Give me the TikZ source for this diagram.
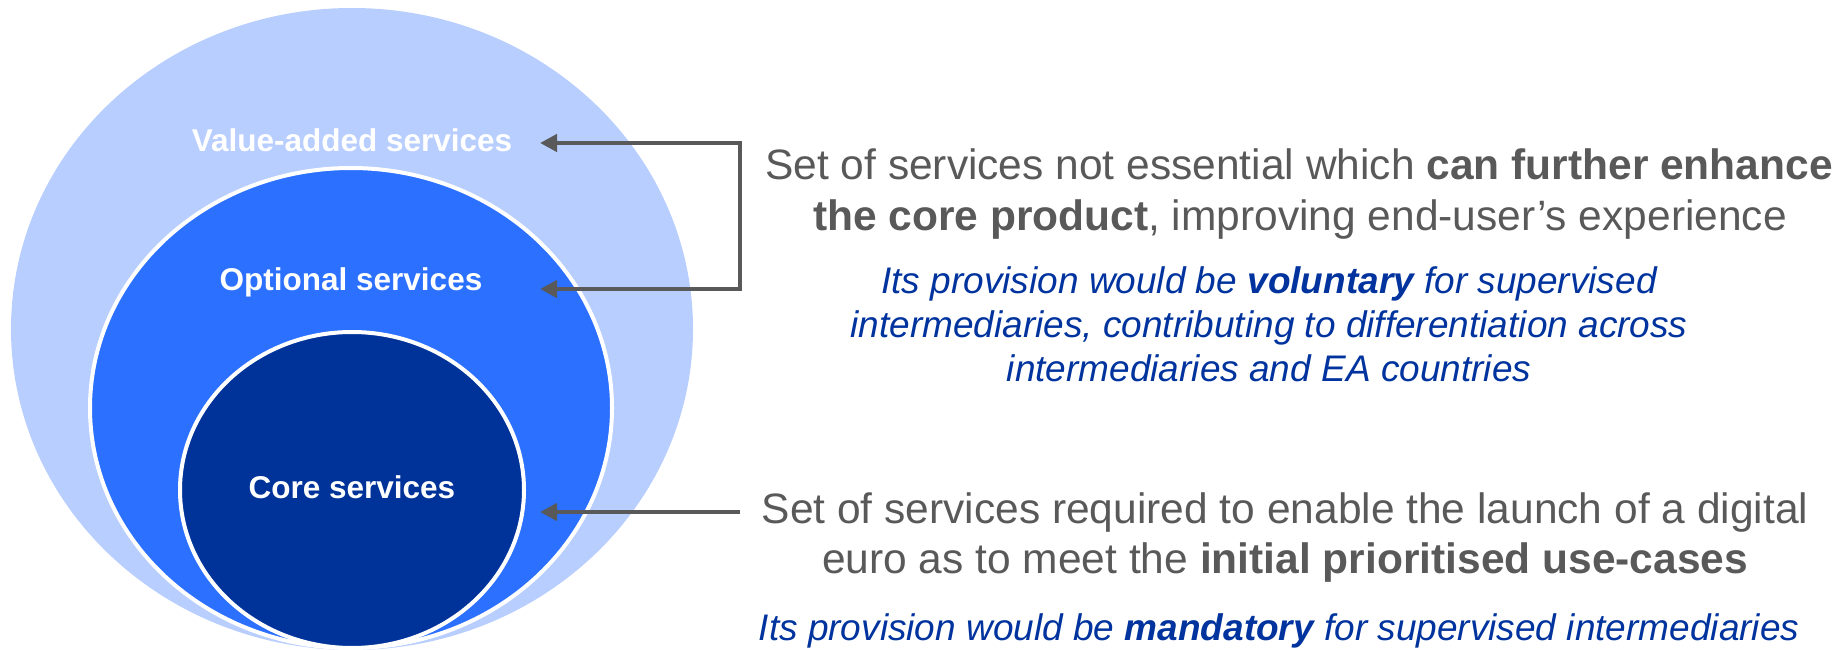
\documentclass[tikz,border=0pt]{standalone}
\usepackage{fontspec}
\setmainfont{Liberation Sans}
\usetikzlibrary{arrows.meta}
\definecolor{outerblue}{HTML}{B8CEFF}
\definecolor{midblue}{HTML}{2B70FF}
\definecolor{navyblue}{HTML}{003399}
\definecolor{txtgray}{HTML}{595959}
\definecolor{itblue}{HTML}{00339E}
\begin{document}
\begin{tikzpicture}[x=1pt,y=-1pt,
  circlabel/.style={text=white,font=\fontsize{31.5}{36}\selectfont\bfseries,anchor=base,inner sep=0pt},
  desc/.style={text=txtgray,font=\fontsize{42.5}{50}\selectfont,anchor=base,inner sep=0pt},
  note/.style={text=itblue,font=\fontsize{37}{44}\selectfont\itshape,anchor=base,inner sep=0pt},
  pointer/.style={draw=txtgray,line width=4.5pt,line join=miter},
  tip/.tip={Triangle[length=17pt,width=17pt]}]
\useasboundingbox (0,0) rectangle (1842,650);
% nested ellipses
\fill[outerblue] (352,329) ellipse [x radius=341pt, y radius=321pt];
\filldraw[fill=midblue,draw=white,line width=4pt] (351,408) ellipse [x radius=261pt, y radius=240pt];
\filldraw[fill=navyblue,draw=white,line width=4pt] (352,490) ellipse [x radius=172pt, y radius=158pt];
% labels
\node[circlabel] (va) at (352,152) {Value-added services};
\node[circlabel] (opt) at (351,290) {Optional services};
\node[circlabel] (core) at (352,498) {Core services};
% connector points
\coordinate (vaTip) at (540,143);
\coordinate (optTip) at (540,289);
\coordinate (coreTip) at (540,512);
\coordinate (brTop) at (740,143);
\coordinate (brBot) at (740,289);
\coordinate (coreTail) at (740,512);
\draw[pointer,tip-tip] (vaTip) -- (brTop) -- (brBot) -- (optTip);
\draw[pointer,-tip] (coreTail) -- (coreTip);
% descriptions
\node[desc] (d1a) at (1299,179) {Set of services not essential which \textbf{can further enhance}};
\node[desc] (d1b) at (1300,230) {\textbf{the core product}, improving end-user’s experience};
\node[note] (n1a) at (1269,293) {Its provision would be \textbf{voluntary} for supervised};
\node[note] (n1b) at (1269,337) {intermediaries, contributing to differentiation across};
\node[note] (n1c) at (1269,381) {intermediaries and EA countries};
\node[desc] (d2a) at (1285,523) {Set of services required to enable the launch of a digital};
\node[desc] (d2b) at (1285,573) {euro as to meet the \textbf{initial prioritised use-cases}};
\node[note] (n2) at (1279,640) {Its provision would be \textbf{mandatory} for supervised intermediaries};
\end{tikzpicture}
\end{document}
